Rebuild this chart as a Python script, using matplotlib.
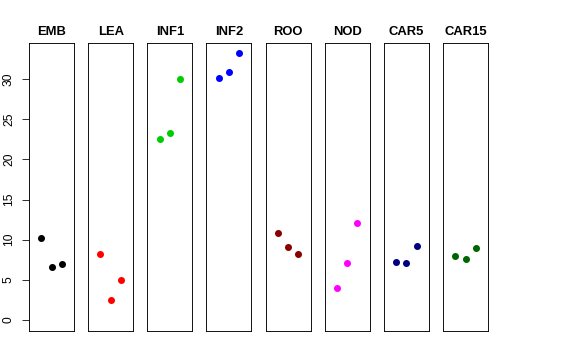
import numpy as np
import matplotlib.pyplot as plt

plt.rcParams['font.family'] = ['Liberation Sans', 'DejaVu Sans']

tissues = ["EMB", "LEA", "INF1", "INF2", "ROO", "NOD", "CAR5", "CAR15"]
colors = ["black", "red", "#00CD00", "blue", "#8B0000", "magenta", "#000080", "#006400"]

emb = [10.2, 6.6, 7.0]
lea = [8.2, 2.5, 5.0]
inf1 = [22.5, 23.3, 30.0]
inf2 = [30.1, 30.9, 33.2]
roo = [10.8, 9.1, 8.2]
nod = [4.0, 7.1, 12.1]
car5 = [7.2, 7.1, 9.2]
car15 = [8.0, 7.6, 9.0]
values = [emb, lea, inf1, inf2, roo, nod, car5, car15]

fig = plt.figure(figsize=(8, 5), dpi=72)
left, right = 29 / 576, 488 / 576
bottom, top = 1 - 331 / 360, 1 - 43 / 360
n = len(tissues)
pw = 45 / 576
gap = (right - left - n * pw) / (n - 1)

for i, (name, col, vals) in enumerate(zip(tissues, colors, values)):
    ax = fig.add_axes([left + i * (pw + gap), bottom, pw, top - bottom])
    ax.plot(np.arange(1, len(vals) + 1), vals, 'o', color=col, markersize=7,
            markeredgewidth=0)
    ax.set_xlim(-0.2, 4.2)
    ax.set_ylim(-1.37, 34.5)
    ax.set_xticks([])
    ax.set_title(name, fontsize=13, fontweight='bold', pad=8)
    for s in ax.spines.values():
        s.set_linewidth(0.9)
    if i == 0:
        ax.set_yticks(np.arange(0, 31, 5))
        ax.tick_params(axis='y', labelsize=12, length=7, width=0.8, pad=7)
        for lab in ax.get_yticklabels():
            lab.set_rotation(90)
            lab.set_va('center')
    else:
        ax.set_yticks([])

fig.savefig("out.png", dpi=72)
